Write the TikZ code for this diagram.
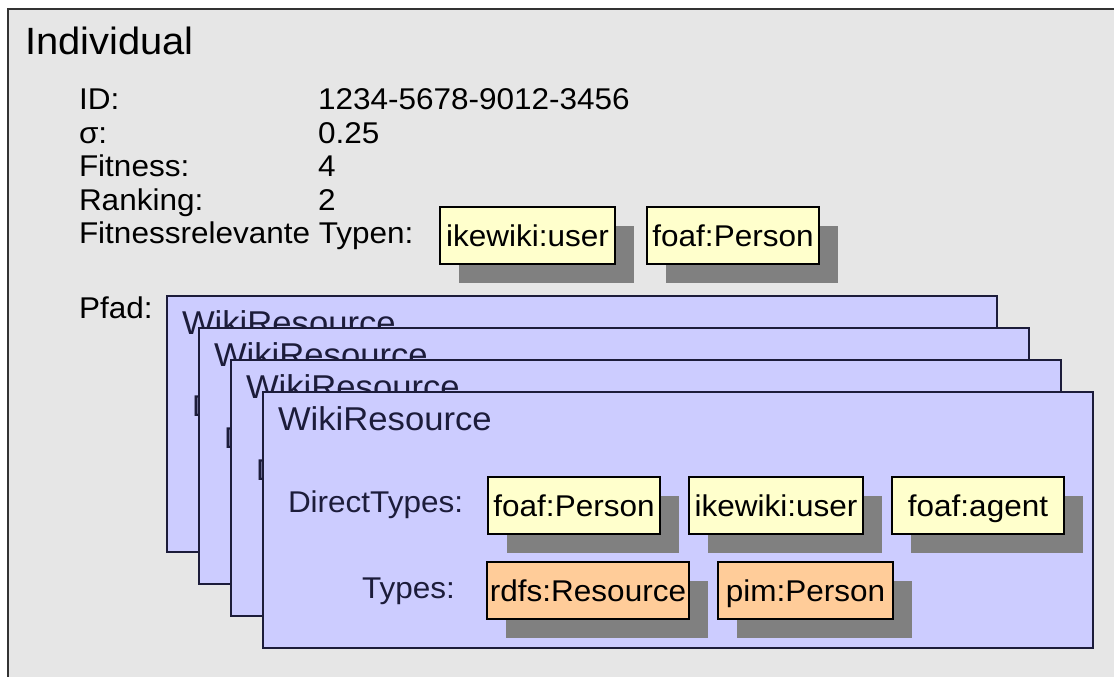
\documentclass[tikz,border=0pt]{standalone}
\usepackage{fontspec}
\setmainfont[FakeStretch=1.05]{Liberation Sans}
\usetikzlibrary{shadows}
\definecolor{panelgray}{HTML}{E6E6E6}
\definecolor{frameline}{HTML}{333333}
\definecolor{cardblue}{HTML}{CCCCFF}
\definecolor{cardline}{HTML}{1C1C3A}
\definecolor{typeyellow}{HTML}{FFFFCC}
\definecolor{typeorange}{HTML}{FFCC99}
\definecolor{shadowgray}{HTML}{808080}
\begin{document}
\begin{tikzpicture}[x=1pt,y=-1pt,
  every node/.style={inner sep=0pt, outer sep=0pt},
  title/.style={anchor=base west, font=\fontsize{38}{44}\selectfont},
  field/.style={anchor=base west, font=\fontsize{30}{36}\selectfont},
  cardtitle/.style={anchor=base west, font=\fontsize{33}{40}\selectfont, text=cardline},
  cardlabel/.style={anchor=base west, font=\fontsize{30}{36}\selectfont, text=cardline},
  typebox/.style={anchor=north west, draw=black, line width=1.5pt, minimum height=57pt,
    text height=26pt, text depth=4pt,
    font=\fontsize{30}{36}\selectfont,
    drop shadow={shadow xshift=19pt, shadow yshift=-19pt, opacity=1, fill=shadowgray}},
  direct/.style={typebox, fill=typeyellow},
  inferred/.style={typebox, fill=typeorange},
  card/.style={anchor=north west, draw=cardline, fill=cardblue, line width=1.8pt,
    minimum width=830pt, minimum height=256pt}
]
\useasboundingbox (0,0) rectangle (1114,677);
\fill[white] (0,0) rectangle (1114,677);

% panel of the individual
\fill[panelgray] (8,9) rectangle (1114,677);
\draw[frameline, line width=2.5pt] (8,677) -- (8,9) -- (1114,9);

\node[title] (title) at (25,55) {Individual};

% attributes
\node[field] (idlab)   at (79,110) {ID:};
\node[field] (idval)   at (318,110) {1234-5678-9012-3456};
\node[field] (siglab)  at (79,143) {σ:};
\node[field] (sigval)  at (318,143) {0.25};
\node[field] (fitlab)  at (79,176) {Fitness:};
\node[field] (fitval)  at (318,176) {4};
\node[field] (ranklab) at (79,210) {Ranking:};
\node[field] (rankval) at (318,210) {2};
\node[field] (rellab)  at (79,243) {Fitnessrelevante Typen:};
\node[direct, minimum width=175pt] (relA) at (440,207) {ikewiki:user};
\node[direct, minimum width=172pt] (relB) at (647,207) {foaf:Person};

\node[field] (pfadlab) at (79,318) {Pfad:};

% stacked path resources
\foreach \i in {0,...,3}{
  \pgfmathsetmacro\L{167+32*\i}
  \pgfmathsetmacro\T{296+32*\i}
  \node[card] (card\i) at (\L,\T) {};
  \node[cardtitle] (name\i) at (\L+15,\T+38) {WikiResource};
  \node[cardlabel] (dlab\i) at (\L+25,\T+120) {DirectTypes:};
  \node[direct, minimum width=172pt] (dA\i) at (\L+225,\T+85) {foaf:Person};
  \node[direct, minimum width=174pt] (dB\i) at (\L+426,\T+85) {ikewiki:user};
  \node[direct, minimum width=172pt] (dC\i) at (\L+629,\T+85) {foaf:agent};
  \node[cardlabel] (tlab\i) at (\L+99,\T+206) {Types:};
  \node[inferred, minimum width=202pt] (tA\i) at (\L+224,\T+170) {rdfs:Resource};
  \node[inferred, minimum width=175pt] (tB\i) at (\L+455,\T+170) {pim:Person};
}
\end{tikzpicture}
\end{document}
